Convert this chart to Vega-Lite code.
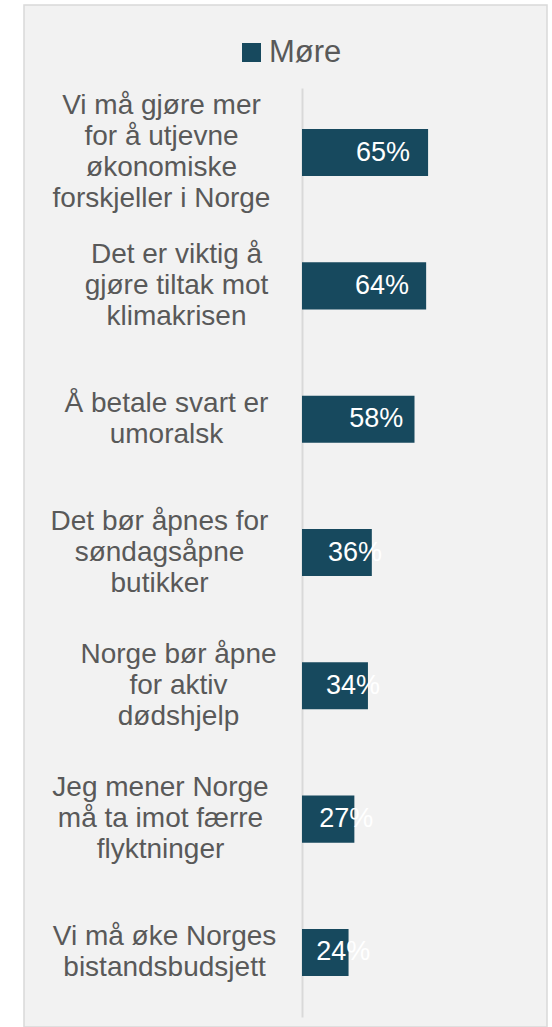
{
  "$schema": "https://vega.github.io/schema/vega-lite/v6.json",
  "autosize": {"type": "none"},
  "padding": {"left": 24, "top": 5, "right": 5, "bottom": 0},
  "width": 523,
  "height": 1022,
  "background": "white",
  "config": {
    "view": {"fill": "#f2f2f2", "stroke": "#d9d9d9", "strokeWidth": 1.5},
    "font": "Liberation Sans"
  },
  "data": {
    "values": [
      {"label": "Vi må gjøre mer|for å utjevne|økonomiske|forskjeller i Norge", "value": 0.65, "series": "Møre"},
      {"label": "Det er viktig å|gjøre tiltak mot|klimakrisen", "value": 0.64, "series": "Møre"},
      {"label": "Å betale svart er|umoralsk", "value": 0.58, "series": "Møre"},
      {"label": "Det bør åpnes for|søndagsåpne|butikker", "value": 0.36, "series": "Møre"},
      {"label": "Norge bør åpne|for aktiv|dødshjelp", "value": 0.34, "series": "Møre"},
      {"label": "Jeg mener Norge|må ta imot færre|flyktninger", "value": 0.27, "series": "Møre"},
      {"label": "Vi må øke Norges|bistandsbudsjett", "value": 0.24, "series": "Møre"}
    ]
  },
  "encoding": {
    "y": {
      "field": "label",
      "type": "nominal",
      "sort": null,
      "scale": {"range": [83, 1012], "paddingInner": 0.647, "paddingOuter": 0.308},
      "axis": {
        "title": null,
        "orient": "left",
        "offset": -278,
        "ticks": false,
        "grid": false,
        "labelExpr": "split(datum.value, '|')",
        "labelAlign": "center",
        "labelBaseline": "middle",
        "labelPadding": {
          "condition": [
            {"test": "indexof(datum.value, 'Det er') == 0", "value": 126},
            {"test": "indexof(datum.value, 'Norge') == 0", "value": 124},
            {"test": "indexof(datum.value, 'Å betale') == 0", "value": 136},
            {"test": "indexof(datum.value, 'Jeg') == 0", "value": 142},
            {"test": "indexof(datum.value, 'Vi må øke') == 0", "value": 138},
            {"test": "indexof(datum.value, 'Det bør') == 0", "value": 143}
          ],
          "value": 141
        },
        "labelOffset": {
          "condition": [
            {"test": "length(split(datum.value, '|')) == 4", "value": -46.5},
            {"test": "length(split(datum.value, '|')) == 3", "value": -31}
          ],
          "value": -15.5
        },
        "labelFontSize": 28,
        "labelColor": "#595959",
        "labelLineHeight": 31,
        "labelLimit": 0,
        "domainColor": "#d9d9d9",
        "domainWidth": 2
      }
    }
  },
  "layer": [
    {
      "mark": {"type": "bar"},
      "encoding": {
        "x": {
          "field": "value",
          "type": "quantitative",
          "scale": {"domain": [-1.433, 1.263], "nice": false, "zero": false},
          "axis": null
        },
        "color": {
          "field": "series",
          "type": "nominal",
          "scale": {"range": ["#17495e"]},
          "legend": {
            "orient": "none",
            "legendX": 212,
            "legendY": 32,
            "title": null,
            "symbolType": "square",
            "symbolSize": 360,
            "symbolStrokeWidth": 0,
            "labelFontSize": 31,
            "labelColor": "#595959",
            "labelOffset": 2,
            "padding": 0
          }
        }
      }
    },
    {
      "transform": [{"calculate": "datum.value / 2", "as": "mid"}],
      "mark": {"type": "text", "color": "white", "fontSize": 27, "dx": 18, "align": "center", "baseline": "middle"},
      "encoding": {
        "x": {"field": "mid", "type": "quantitative"},
        "text": {"field": "value", "type": "quantitative", "format": ".0%"}
      }
    }
  ]
}
